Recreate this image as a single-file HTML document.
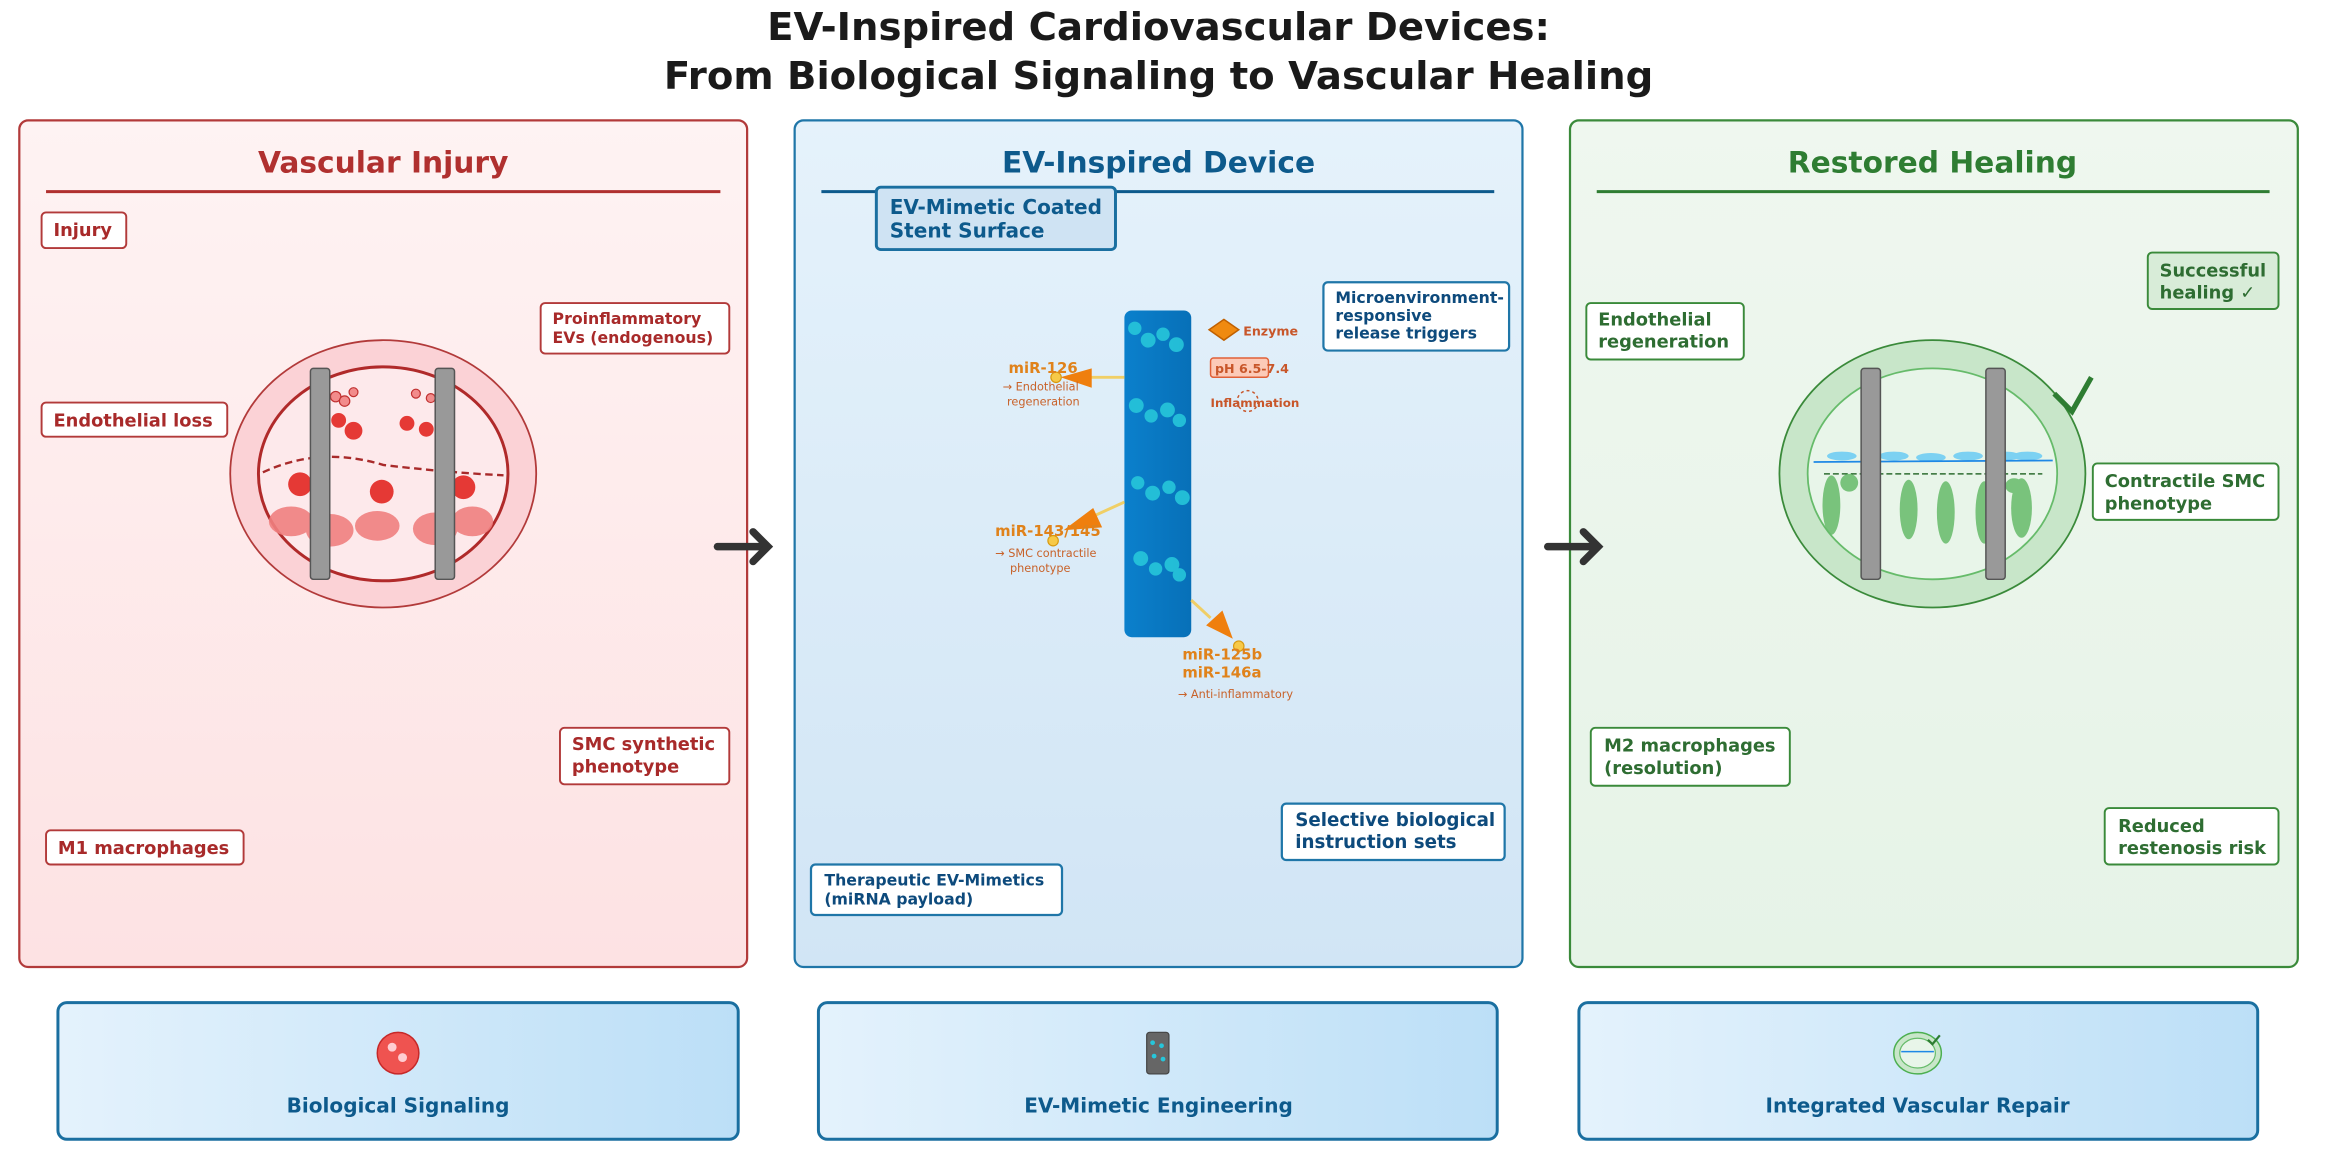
<!DOCTYPE html>
<html><head><meta charset="utf-8"><style>
html,body{margin:0;padding:0;background:#fff}
svg{display:block}
text{font-family:"DejaVu Sans","Liberation Sans",sans-serif}
</style></head><body>
<svg width="2329" height="1150" viewBox="0 0 1568 774.2" xmlns="http://www.w3.org/2000/svg">
<defs>
<linearGradient id="gr" x1="0" y1="0" x2="0" y2="1"><stop offset="0" stop-color="#fef3f3"/><stop offset="1" stop-color="#fde2e3"/></linearGradient>
<linearGradient id="gb" x1="0" y1="0" x2="0" y2="1"><stop offset="0" stop-color="#e5f2fb"/><stop offset="1" stop-color="#d1e5f5"/></linearGradient>
<linearGradient id="gg" x1="0" y1="0" x2="0" y2="1"><stop offset="0" stop-color="#eff7ef"/><stop offset="1" stop-color="#e6f3e7"/></linearGradient>
<linearGradient id="gbot" x1="0" y1="0" x2="1" y2="0"><stop offset="0" stop-color="#e4f2fc"/><stop offset="1" stop-color="#bcdff7"/></linearGradient>
<linearGradient id="gst" x1="0" y1="0" x2="1" y2="0"><stop offset="0" stop-color="#0b80cc"/><stop offset="1" stop-color="#0770b8"/></linearGradient>
</defs>
<text x="780" y="27" text-anchor="middle" font-size="26" font-weight="bold" fill="#1a1a1a">EV-Inspired Cardiovascular Devices:</text>
<text x="780" y="60" text-anchor="middle" font-size="26" font-weight="bold" fill="#1a1a1a">From Biological Signaling to Vascular Healing</text>

<!-- Left panel -->
<rect x="13" y="81" width="490" height="570" rx="6" fill="url(#gr)" stroke="#b23a3a" stroke-width="1.5"/>
<text x="258" y="116" text-anchor="middle" font-size="20" font-weight="bold" fill="#b0302f">Vascular Injury</text>
<line x1="31" y1="129" x2="485" y2="129" stroke="#b0302f" stroke-width="2"/>
<g font-size="12" font-weight="bold" fill="#a82a2a">
<rect x="28" y="143" width="57" height="24" rx="3" fill="#fff" stroke="#b23a3a" stroke-width="1.3"/><text x="36" y="159">Injury</text>
<rect x="28" y="271" width="125" height="23" rx="3" fill="#fff" stroke="#b23a3a" stroke-width="1.3"/><text x="36" y="287">Endothelial loss</text>
<rect x="364" y="204" width="127" height="34" rx="3" fill="#fff" stroke="#b23a3a" stroke-width="1.3"/><text x="372" y="218" font-size="10.6">Proinflammatory</text><text x="372" y="231" font-size="10.6">EVs (endogenous)</text>
<rect x="377" y="490" width="114" height="38" rx="3" fill="#fff" stroke="#b23a3a" stroke-width="1.3"/><text x="385" y="505">SMC synthetic</text><text x="385" y="520">phenotype</text>
<rect x="31" y="559" width="133" height="23" rx="3" fill="#fff" stroke="#b23a3a" stroke-width="1.3"/><text x="39" y="575">M1 macrophages</text>
</g>
<ellipse cx="258" cy="319" rx="103" ry="90" fill="#fbd2d6" stroke="#b23a3a" stroke-width="1.2"/>
<ellipse cx="258" cy="319" rx="84" ry="72" fill="#fde9eb" stroke="#b02a2a" stroke-width="2"/>
<g fill="#f08080" opacity="0.9">
<ellipse cx="196" cy="351" rx="15" ry="10"/><ellipse cx="222" cy="357" rx="16" ry="11"/><ellipse cx="254" cy="354" rx="15" ry="10"/><ellipse cx="293" cy="356" rx="15" ry="11"/><ellipse cx="318" cy="351" rx="14" ry="10"/>
</g>
<path d="M177 318 Q215 300 258 313 Q300 318 339 320" fill="none" stroke="#a82a2a" stroke-width="1.6" stroke-dasharray="5,3"/>
<g fill="#e53935">
<circle cx="215" cy="286" r="5"/><circle cx="228" cy="283" r="5"/><circle cx="238" cy="290" r="6"/><circle cx="274" cy="285" r="5"/><circle cx="287" cy="289" r="5"/><circle cx="299" cy="283" r="5"/>
<circle cx="202" cy="326" r="8"/><circle cx="257" cy="331" r="8"/><circle cx="312" cy="328" r="8"/>
</g>
<g fill="#f28b8b" stroke="#c03030" stroke-width="0.8">
<circle cx="226" cy="267" r="3.5"/><circle cx="232" cy="270" r="3.5"/><circle cx="238" cy="264" r="3"/><circle cx="280" cy="265" r="3"/><circle cx="290" cy="268" r="3"/><circle cx="296" cy="264" r="3"/>
</g>
<rect x="209" y="248" width="13" height="142" rx="2" fill="#999" stroke="#555" stroke-width="1"/>
<rect x="293" y="248" width="13" height="142" rx="2" fill="#999" stroke="#555" stroke-width="1"/>

<!-- Middle panel -->
<rect x="535" y="81" width="490" height="570" rx="6" fill="url(#gb)" stroke="#1f76a8" stroke-width="1.5"/>
<text x="780" y="116" text-anchor="middle" font-size="20" font-weight="bold" fill="#0d5a8c">EV-Inspired Device</text>
<line x1="553" y1="129" x2="1006" y2="129" stroke="#0d5a8c" stroke-width="2"/>
<rect x="590" y="126" width="161" height="42" rx="3" fill="#cfe3f3" stroke="#1a6fa0" stroke-width="2"/>
<text x="599" y="144" font-size="13.5" font-weight="bold" fill="#0d5a8c">EV-Mimetic Coated</text>
<text x="599" y="160" font-size="13.5" font-weight="bold" fill="#0d5a8c">Stent Surface</text>
<g font-size="10.6" font-weight="bold" fill="#0d4a7c">
<rect x="891" y="190" width="125" height="46" rx="3" fill="#fff" stroke="#1f76a8" stroke-width="1.5"/><text x="899" y="204">Microenvironment-</text><text x="899" y="216">responsive</text><text x="899" y="228">release triggers</text>
<rect x="863" y="541" width="150" height="38" rx="3" fill="#fff" stroke="#1f76a8" stroke-width="1.5"/><text x="872" y="556" font-size="12.3">Selective biological</text><text x="872" y="571" font-size="12.3">instruction sets</text>
<rect x="546" y="582" width="169" height="34" rx="3" fill="#fff" stroke="#1f76a8" stroke-width="1.5"/><text x="555" y="596">Therapeutic EV-Mimetics</text><text x="555" y="609">(miRNA payload)</text>
</g>
<rect x="757" y="209" width="45" height="220" rx="5" fill="url(#gst)"/>
<g fill="#26c6da" opacity="0.9">
<circle cx="764" cy="221" r="4.5"/><circle cx="773" cy="229" r="5"/><circle cx="783" cy="225" r="4.5"/><circle cx="792" cy="232" r="5"/>
<circle cx="765" cy="273" r="5"/><circle cx="775" cy="280" r="4.5"/><circle cx="786" cy="276" r="5"/><circle cx="794" cy="283" r="4.5"/>
<circle cx="766" cy="325" r="4.5"/><circle cx="776" cy="332" r="5"/><circle cx="787" cy="328" r="4.5"/><circle cx="796" cy="335" r="5"/>
<circle cx="768" cy="376" r="5"/><circle cx="778" cy="383" r="4.5"/><circle cx="789" cy="380" r="5"/><circle cx="794" cy="387" r="4.5"/>
</g>
<polygon points="814,222 824,215 834,222 824,229" fill="#f08a10" stroke="#c06000" stroke-width="1"/>
<text x="837" y="226" font-size="8.5" font-weight="bold" fill="#c8562a">Enzyme</text>
<rect x="815" y="241" width="39" height="13" rx="2" fill="#fccab8" stroke="#e06038" stroke-width="1"/>
<text x="818" y="251" font-size="8.5" font-weight="bold" fill="#c8562a">pH 6.5-7.4</text>
<circle cx="840" cy="270" r="7" fill="none" stroke="#c8562a" stroke-width="1" stroke-dasharray="2,2"/>
<text x="815" y="274" font-size="8" font-weight="bold" fill="#c8562a">Inflammation</text>
<g stroke="#f5c842" stroke-width="2" opacity="0.8"><line x1="757" y1="254" x2="730" y2="254"/><line x1="757" y1="338" x2="735" y2="348"/><line x1="802" y1="404" x2="815" y2="416"/></g>
<g fill="#ef7f0e">
<polygon points="735,248 735,261 714,254"/><polygon points="736,342 742,355 716,357"/><polygon points="812,421 823,411 830,430"/>
</g>
<g fill="#f7c948" stroke="#d89a10" stroke-width="0.8"><circle cx="711" cy="254" r="3.5"/><circle cx="709" cy="364" r="3.5"/><circle cx="834" cy="435" r="3.5"/></g>
<g font-weight="bold" fill="#e0821a" font-size="10">
<text x="679" y="251">miR-126</text><text x="670" y="361">miR-143/145</text><text x="796" y="444">miR-125b</text><text x="796" y="456">miR-146a</text>
</g>
<g fill="#c8622a" font-size="7.6">
<text x="675" y="263">→ Endothelial</text><text x="678" y="273">regeneration</text>
<text x="670" y="375">→ SMC contractile</text><text x="680" y="385">phenotype</text>
<text x="793" y="470">→ Anti-inflammatory</text>
</g>

<!-- Right panel -->
<rect x="1057" y="81" width="490" height="570" rx="6" fill="url(#gg)" stroke="#3a8a3a" stroke-width="1.5"/>
<text x="1301" y="116" text-anchor="middle" font-size="20" font-weight="bold" fill="#2e7d32">Restored Healing</text>
<line x1="1075" y1="129" x2="1528" y2="129" stroke="#2e7d32" stroke-width="2"/>
<g font-size="12" font-weight="bold" fill="#2e6d32">
<rect x="1068" y="204" width="106" height="38" rx="3" fill="#fff" stroke="#3a8a3a" stroke-width="1.3"/><text x="1076" y="219">Endothelial</text><text x="1076" y="234">regeneration</text>
<rect x="1446" y="170" width="88" height="38" rx="3" fill="#d8ecd8" stroke="#3a8a3a" stroke-width="1.3"/><text x="1454" y="186">Successful</text><text x="1454" y="201">healing ✓</text>
<rect x="1409" y="312" width="125" height="38" rx="3" fill="#fff" stroke="#3a8a3a" stroke-width="1.3"/><text x="1417" y="328">Contractile SMC</text><text x="1417" y="343">phenotype</text>
<rect x="1071" y="490" width="134" height="39" rx="3" fill="#fff" stroke="#3a8a3a" stroke-width="1.3"/><text x="1080" y="506">M2 macrophages</text><text x="1080" y="521">(resolution)</text>
<rect x="1417" y="544" width="117" height="38" rx="3" fill="#fff" stroke="#3a8a3a" stroke-width="1.3"/><text x="1426" y="560">Reduced</text><text x="1426" y="575">restenosis risk</text>
</g>
<ellipse cx="1301" cy="319" rx="103" ry="90" fill="#c8e6c9" stroke="#3a8a3a" stroke-width="1.2"/>
<ellipse cx="1301" cy="319" rx="84" ry="71" fill="#e8f5e9" stroke="#66bb6a" stroke-width="1.2"/>
<g fill="#4fc3f7" opacity="0.7"><ellipse cx="1240" cy="307" rx="10" ry="3"/><ellipse cx="1275" cy="307" rx="10" ry="3"/><ellipse cx="1300" cy="308" rx="10" ry="3"/><ellipse cx="1325" cy="307" rx="10" ry="3"/><ellipse cx="1350" cy="307" rx="10" ry="3"/><ellipse cx="1365" cy="307" rx="10" ry="3"/></g>
<line x1="1221" y1="311" x2="1382" y2="310" stroke="#1e88e5" stroke-width="1.2"/>
<line x1="1228" y1="319" x2="1375" y2="319" stroke="#2e6d32" stroke-width="1" stroke-dasharray="4,2"/>
<g fill="#66bb6a" opacity="0.85">
<ellipse cx="1233" cy="340" rx="6" ry="20"/><ellipse cx="1245" cy="325" rx="6" ry="6"/><ellipse cx="1259" cy="344" rx="6" ry="21"/><ellipse cx="1285" cy="343" rx="6" ry="20"/><ellipse cx="1310" cy="345" rx="6" ry="21"/><ellipse cx="1336" cy="345" rx="6" ry="21"/><ellipse cx="1361" cy="342" rx="7" ry="20"/><ellipse cx="1356" cy="327" rx="6" ry="5"/>
</g>
<rect x="1253" y="248" width="13" height="142" rx="2" fill="#999" stroke="#555" stroke-width="1"/>
<rect x="1337" y="248" width="13" height="142" rx="2" fill="#999" stroke="#555" stroke-width="1"/>
<polyline points="1383,265 1395,277 1408,254" fill="none" stroke="#2e7d32" stroke-width="3.5"/>

<!-- arrows between panels -->
<g stroke="#333" stroke-width="5" fill="none" stroke-linecap="round">
<line x1="483" y1="368" x2="515" y2="368"/><polyline points="507,358 517,368 507,378"/>
<line x1="1042" y1="368" x2="1074" y2="368"/><polyline points="1066,358 1076,368 1066,378"/>
</g>

<!-- Bottom boxes -->
<rect x="39" y="675" width="458" height="92" rx="6" fill="url(#gbot)" stroke="#1a6fa0" stroke-width="2"/>
<rect x="551" y="675" width="457" height="92" rx="6" fill="url(#gbot)" stroke="#1a6fa0" stroke-width="2"/>
<rect x="1063" y="675" width="457" height="92" rx="6" fill="url(#gbot)" stroke="#1a6fa0" stroke-width="2"/>
<g font-size="13.5" font-weight="bold" fill="#0d5a8c" text-anchor="middle">
<text x="268" y="749">Biological Signaling</text>
<text x="780" y="749">EV-Mimetic Engineering</text>
<text x="1291" y="749">Integrated Vascular Repair</text>
</g>
<circle cx="268" cy="709" r="14" fill="#ef5350" stroke="#c62828" stroke-width="1"/>
<circle cx="264" cy="705" r="3" fill="#ffcdd2"/><circle cx="271" cy="712" r="3" fill="#ffcdd2"/>
<rect x="772" y="695" width="15" height="28" rx="2" fill="#666" stroke="#444" stroke-width="0.8"/>
<g fill="#26c6da"><circle cx="776" cy="702" r="1.6"/><circle cx="782" cy="704" r="1.6"/><circle cx="777" cy="711" r="1.6"/><circle cx="783" cy="713" r="1.6"/></g>
<ellipse cx="1291" cy="709" rx="16" ry="14" fill="#c8e6c9" stroke="#4caf50" stroke-width="1"/>
<ellipse cx="1291" cy="709" rx="12" ry="10" fill="#e8f5e9" stroke="#66bb6a" stroke-width="0.8"/>
<line x1="1280" y1="708" x2="1302" y2="708" stroke="#1e88e5" stroke-width="1"/>
<polyline points="1298,700 1301,703 1306,697" fill="none" stroke="#2e7d32" stroke-width="1.5"/>
</svg>
</body></html>
